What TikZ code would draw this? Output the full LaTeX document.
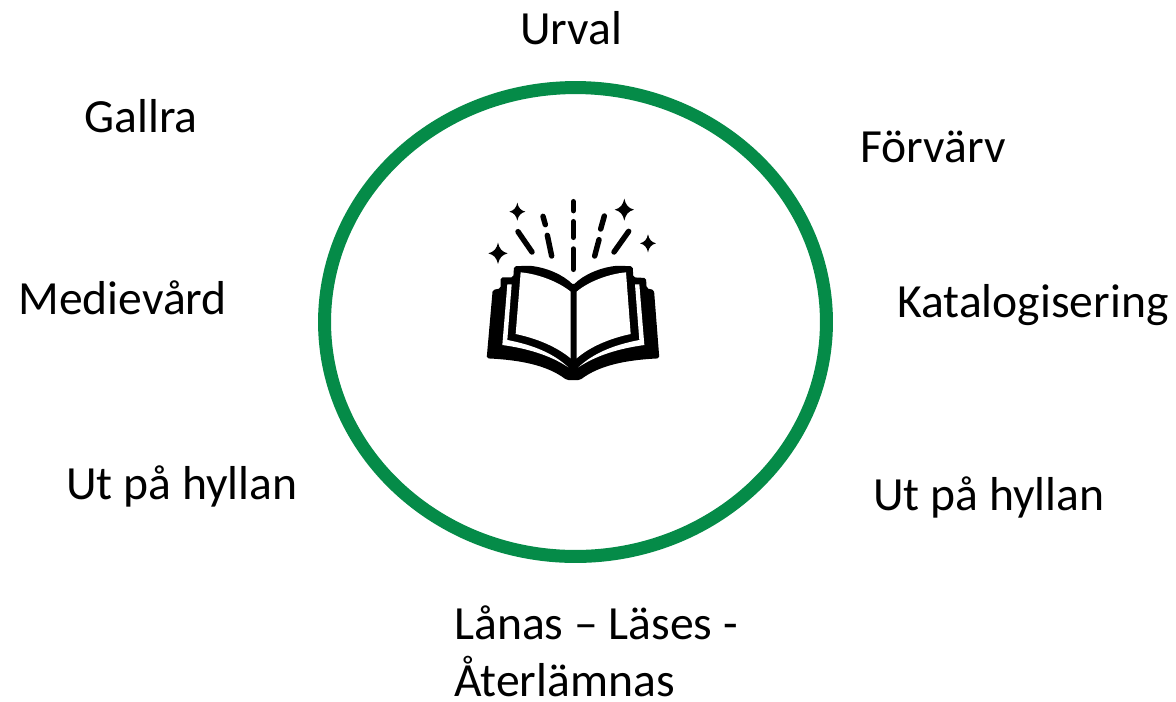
\documentclass[tikz,border=0pt]{standalone}
\usepackage{fontspec}
\setmainfont{Carlito}
\usetikzlibrary{shapes.geometric}
\definecolor{ringgreen}{HTML}{058B48}
\tikzset{
  steplabel/.style={anchor=base west,inner sep=0pt,font=\fontsize{27.1pt}{33pt}\selectfont,text=black},
  ray/.style={line width=3.1pt,line cap=round,black},
  sparkle/.pic={\fill[black] (0,-1) .. controls (.14,-.42) and (.42,-.14) .. (1,0) .. controls (.42,.14) and (.14,.42) .. (0,1) .. controls (-.14,.42) and (-.42,.14) .. (-1,0) .. controls (-.42,-.14) and (-.14,-.42) .. (0,-1) -- cycle;}
}
\begin{document}
\begin{tikzpicture}[x=0.02cm,y=-0.02cm]
\useasboundingbox (0,0) rectangle (1176,701);
\node[draw=ringgreen,ellipse,line width=7.4pt,minimum width=10.04cm,minimum height=9.38cm,inner sep=0pt] (ring) at (575.5,322) {};

\node[steplabel] (urval) at (520,44) {Urval};
\node[steplabel] (gallra) at (84,132) {Gallra};
\node[steplabel] (forvarv) at (860,162) {Förvärv};
\node[steplabel] (medievard) at (18,314) {Medievård};
\node[steplabel] (katalog) at (897,317) {Katalogisering};
\node[steplabel] (uthyllan1) at (66,499) {Ut på hyllan};
\node[steplabel] (uthyllan2) at (873,510) {Ut på hyllan};
\node[steplabel] (lanas) at (454,639) {Lånas – Läses -};
\node[steplabel] (aterlamnas) at (454,696) {Återlämnas};

% book
\begin{scope}[shift={(470,190)},x=0.02cm/3,y=-0.02cm/3]
\fill[black,rounded corners=1pt] (50,505) -- (68,300) -- (92,295) -- (92,262) -- (130,262) -- (132,229) -- (175,227)
  .. controls (230,232) and (280,255) .. (310,285)
  .. controls (340,255) and (390,232) .. (445,227) -- (488,229) -- (490,262) -- (528,264) -- (530,295) -- (552,300) -- (568,505)
  .. controls (470,510) and (390,525) .. (330,570) -- (290,570)
  .. controls (230,525) and (150,510) .. (50,505) -- cycle;
\fill[white] (152,247) .. controls (205,252) and (265,275) .. (302,305) -- (302,505) .. controls (260,470) and (200,445) .. (137,432) -- cycle;
\fill[white] (468,247) .. controls (415,252) and (355,275) .. (320,305) -- (320,505) .. controls (360,470) and (420,445) .. (482,432) -- cycle;
\fill[white] (112,283) -- (125,283) -- (112,450) .. controls (190,465) and (250,490) .. (295,532) .. controls (240,495) and (170,475) .. (97,465) -- cycle;
\fill[white] (508,283) -- (495,283) -- (508,450) .. controls (430,465) and (370,490) .. (325,532) .. controls (380,495) and (450,475) .. (523,465) -- cycle;
\draw[ray] (310,35) -- (310,62);
\draw[ray] (310,95) -- (310,142);
\draw[ray] (310,177) -- (310,238);
\draw[ray] (219,79) -- (226,104);
\draw[ray] (232,136) -- (245,198);
\draw[ray] (403,78) -- (392,117);
\draw[ray] (387,149) -- (374,198);
\draw[ray] (144,125) -- (186,186);
\draw[ray] (476,124) -- (432,186);
\path (84,190) pic[x=.193cm,y=.213cm] {sparkle};
\path (142,65) pic[x=.16cm,y=.18cm] {sparkle};
\path (463,59) pic[x=.193cm,y=.22cm] {sparkle};
\path (534,160) pic[x=.16cm,y=.18cm] {sparkle};
\end{scope}
\end{tikzpicture}
\end{document}
